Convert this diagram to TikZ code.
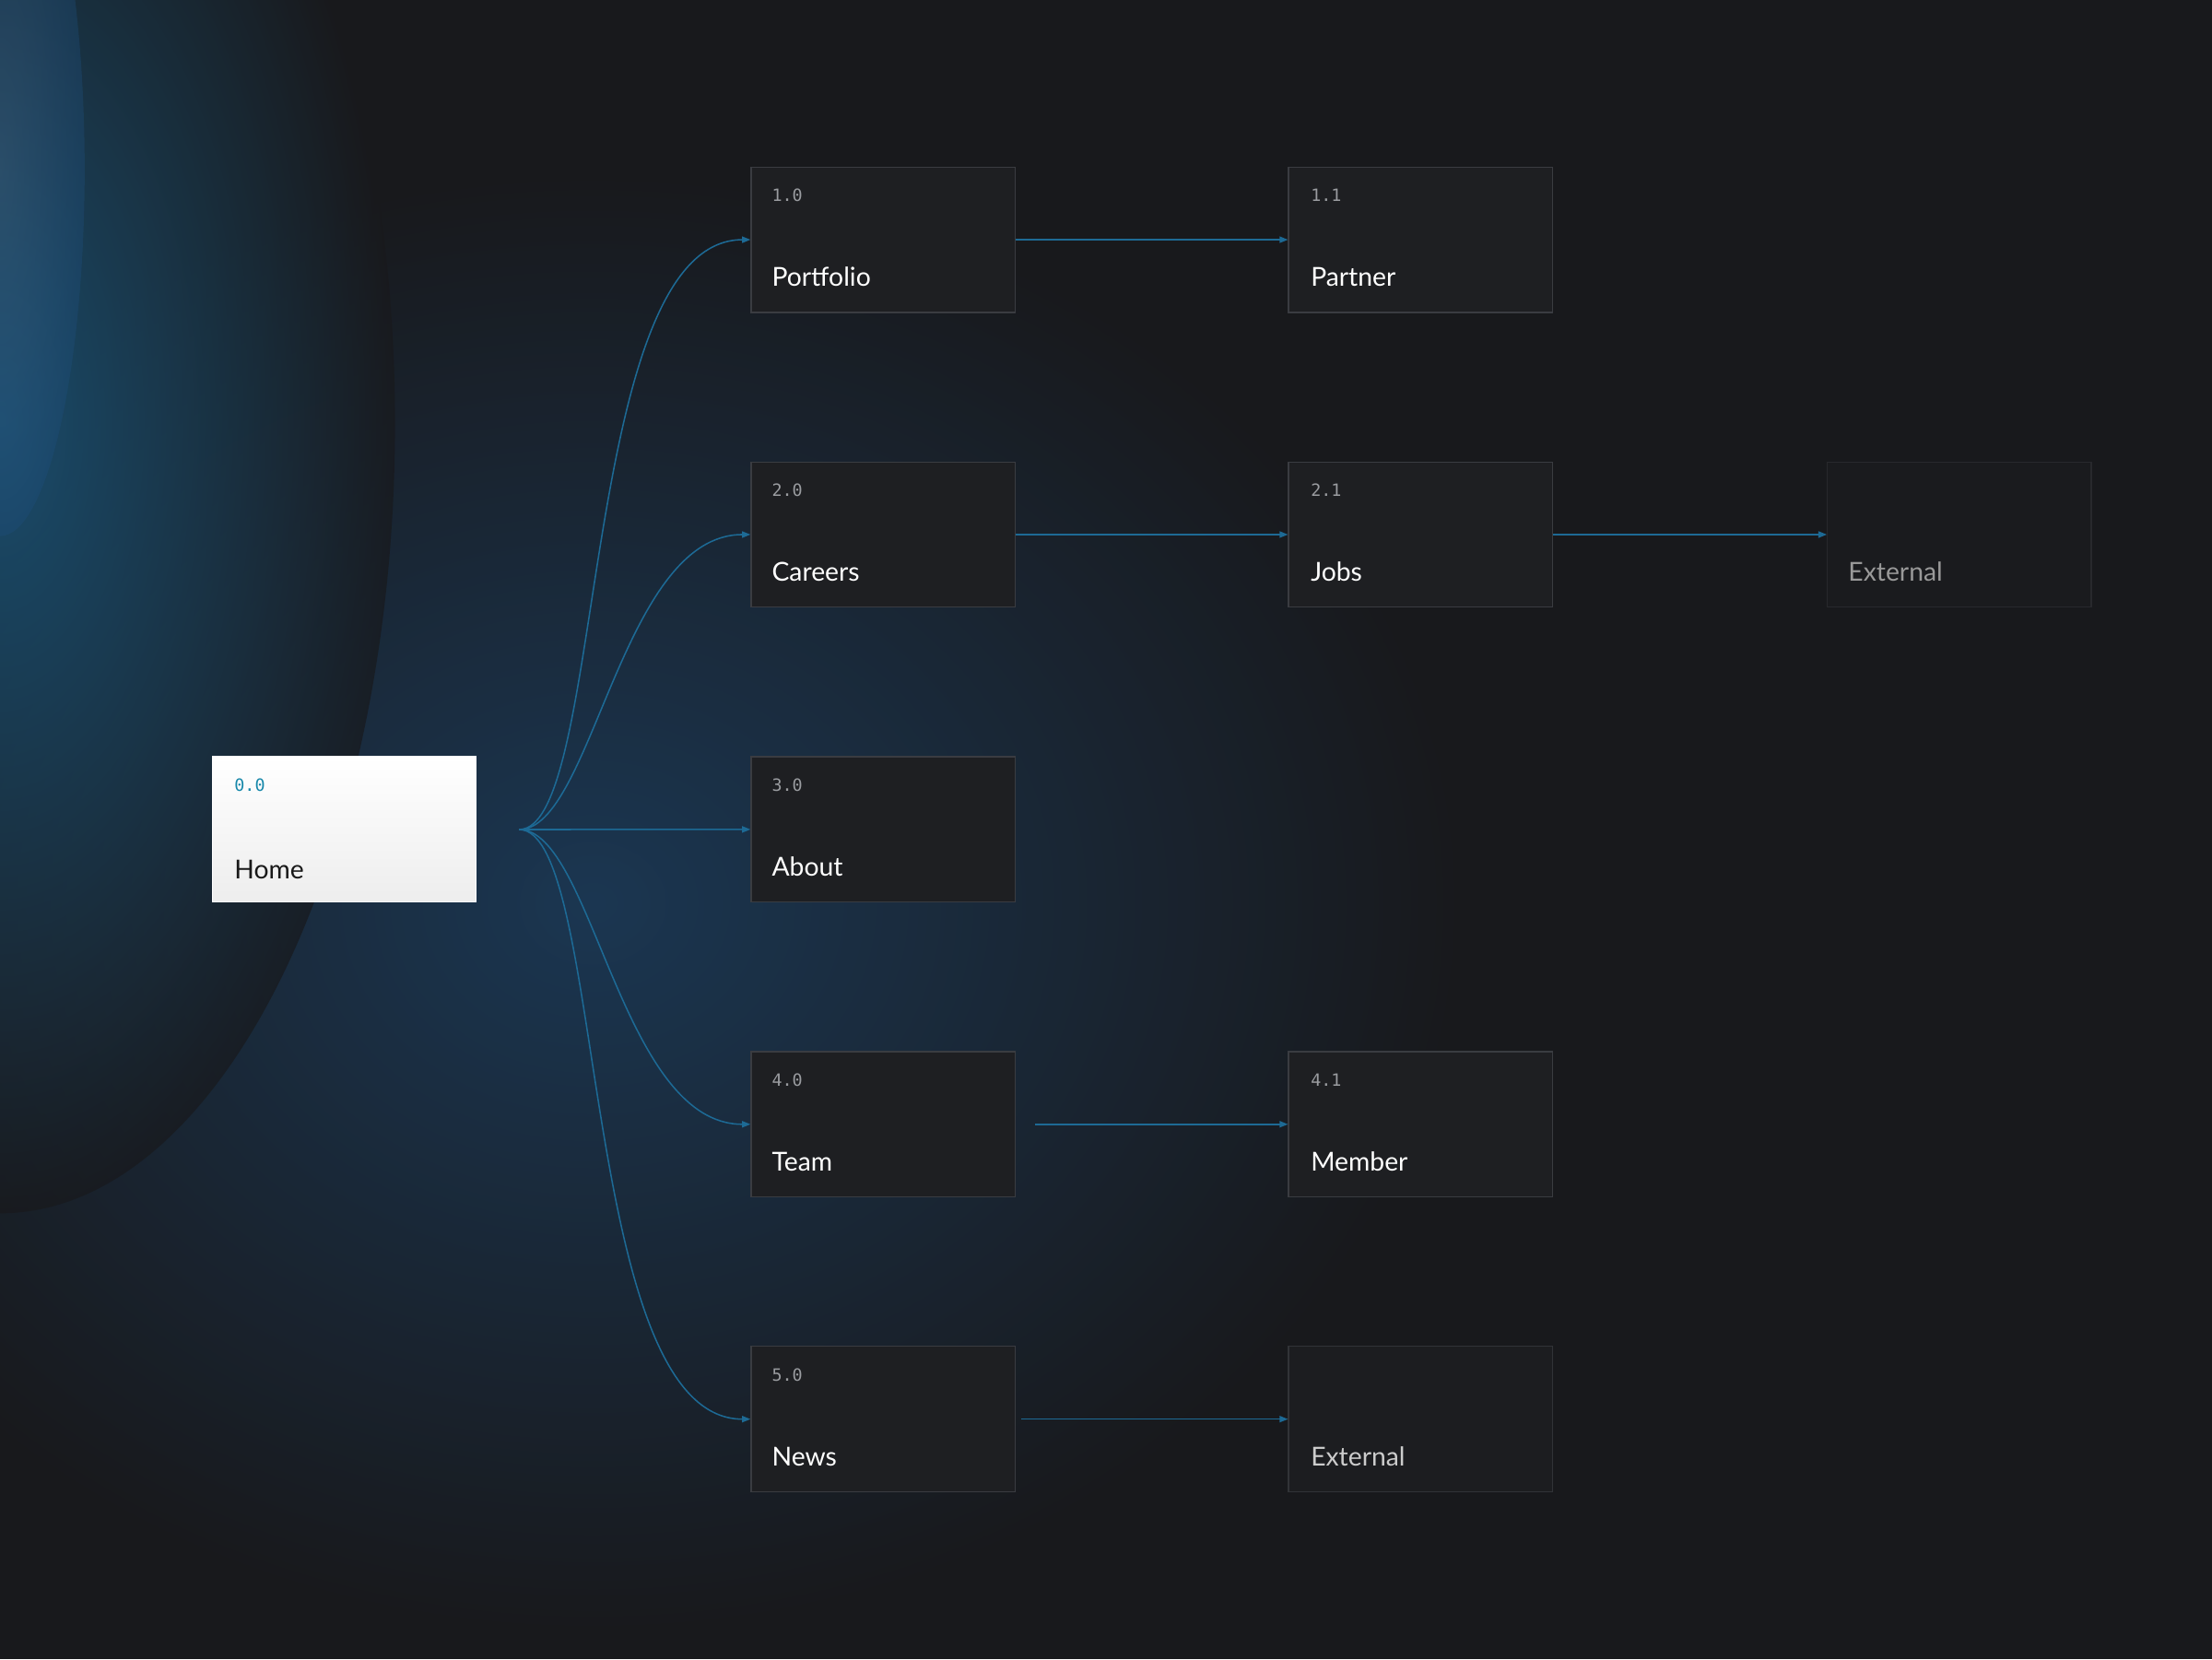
\documentclass[tikz,border=0pt]{standalone}
\usepackage{fontspec}
\setmainfont{Lato}
\setmonofont{DejaVu Sans Mono}
\usetikzlibrary{arrows.meta,shadings}
\definecolor{bg}{HTML}{18191C}
\definecolor{glow}{HTML}{1E4F7E}
\definecolor{boxfill}{HTML}{1E1F22}
\definecolor{boxline}{HTML}{3A3C41}
\definecolor{link}{HTML}{1D6A95}
\definecolor{numc}{HTML}{9A9CA0}
\begin{document}
\begin{tikzpicture}[x=1pt,y=-1pt,
  box/.style={draw=boxline,line width=0.8pt,fill=boxfill,minimum width=187pt,minimum height=103pt,anchor=north west,inner sep=0pt},
  numtxt/.style={anchor=base west,font=\ttfamily\fontsize{12}{12}\selectfont,text=numc,inner sep=0pt},
  nametxt/.style={anchor=base west,font=\fontsize{18.5}{20}\selectfont,text=white,inner sep=0pt},
  conn/.style={draw=link,line width=1pt,-{Triangle[length=6pt,width=4.5pt]}}]
\useasboundingbox (0,0) rectangle (1568,1176);
\fill[bg] (0,0) rectangle (1568,1176);
\begin{scope}
\clip (0,0) rectangle (1568,1176);
\shade[inner color=glow,outer color=bg,opacity=0.55] (420,640) ellipse (620 and 520);
\shade[inner color=glow!90!cyan,outer color=bg,opacity=0.7] (0,300) ellipse (280 and 560);
\shade[inner color=glow!80!white,outer color=glow,opacity=0.35] (0,120) ellipse (60 and 260);
\end{scope}
% Home
\node[box,draw=white,top color=white,bottom color=white!93!black] (home) at (150,536) {};
\node[numtxt,text=link!80!cyan] (homen) at (166,561) {0.0};
\node[nametxt,text=black!90] (homet) at (166,623) {Home};
\coordinate (hub) at (368,588);
% column 1
\foreach \k/\y/\n/\t in {p/118/1.0/Portfolio,c/327/2.0/Careers,a/536/3.0/About,t/745/4.0/Team,w/954/5.0/News}{
  \node[box] (\k) at (532,\y) {};
  \node[numtxt] (\k n) at (547,\y+25) {\n};
  \node[nametxt] (\k t) at (547,\y+85) {\t};
}
\foreach \k/\y/\n/\t in {pp/118/1.1/Partner,jc/327/2.1/Jobs / Companies,m/745/4.1/Member}{
  \node[box] (\k) at (913,\y) {};
  \node[numtxt] (\k n) at (929,\y+25) {\n};
  \node[nametxt] (\k t) at (929,\y+85) {\t};
}
\node[box,opacity=0.75] (ex2) at (913,954) {};
\node[nametxt,text=white!80!black] (ex2t) at (929,1039) {External};
\node[box,opacity=0.45] (ex1) at (1295,327) {};
\node[nametxt,text=white!60!black] (ex1t) at (1310,412) {External};
% curves
\draw[conn] (hub) .. controls (430,588) and (410,170) .. (p.west);
\draw[conn] (hub) .. controls (420,588) and (440,379) .. (c.west);
\draw[conn] (hub) -- (a.west);
\draw[conn] (hub) .. controls (420,588) and (440,797) .. (t.west);
\draw[conn] (hub) .. controls (430,588) and (410,1006) .. (w.west);
% horizontal
\draw[conn] (p.east) -- (pp.west);
\draw[conn] (c.east) -- (jc.west);
\draw[conn] (jc.east) -- (ex1.west);
\draw[conn] ([xshift=14pt]t.east) -- (m.west);
\draw[conn] ([xshift=4pt]w.east) -- (ex2.west);
\end{tikzpicture}
\end{document}
